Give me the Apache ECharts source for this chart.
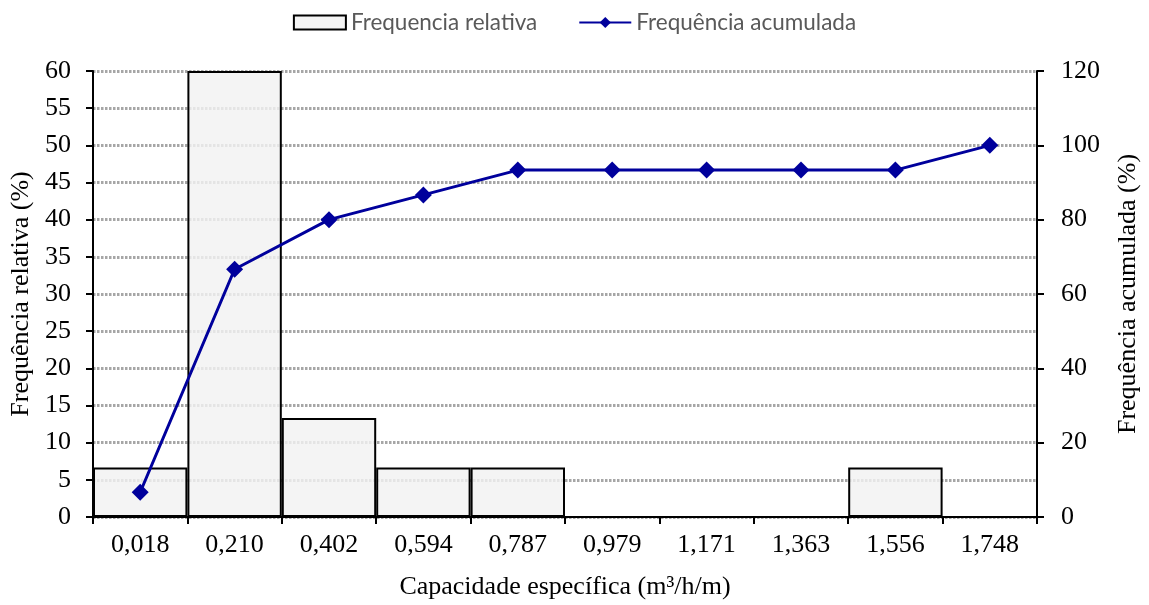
<!DOCTYPE html>
<html>
<head>
<meta charset="utf-8">
<script src="https://cdn.jsdelivr.net/npm/echarts@6/dist/echarts.min.js"></script>
<style>
  html, body { margin: 0; padding: 0; background: #fff; }
  #chart { width: 1149px; height: 605px; }
</style>
</head>
<body>
<div id="chart"></div>
<script>
// Class limits of specific capacity (m³/h/m)
const categories = ['0,018', '0,210', '0,402', '0,594', '0,787', '0,979', '1,171', '1,363', '1,556', '1,748'];
// Relative frequency per class (%)
const relativeFreq = [6.67, 60, 13.33, 6.67, 6.67, 0, 0, 0, 6.67, 0];
// Cumulative frequency (%)
const cumulativeFreq = [6.67, 66.67, 80, 86.67, 93.33, 93.33, 93.33, 93.33, 93.33, 100];
// Axis ticks
const leftTicks = { min: 0, max: 60, interval: 5 };
const rightTicks = { min: 0, max: 120, interval: 20 };

const serif = '"Liberation Serif", "Times New Roman", serif';
const sans = 'Lato, "Open Sans", "Noto Sans", sans-serif';

const chart = echarts.init(document.getElementById('chart'), null, { renderer: 'canvas' });
chart.setOption({
  animation: false,
  legend: {
    top: 6,
    left: 'center',
    itemGap: 41,
    itemWidth: 52,
    itemHeight: 14,
    textStyle: { fontFamily: sans, fontSize: 22.5, color: '#595959' },
    data: [
      { name: 'Frequencia relativa', icon: 'rect' },
      { name: 'Frequência acumulada' }
    ]
  },
  grid: { left: 93, right: 109, top: 71, bottom: 85 },
  xAxis: {
    type: 'category',
    data: categories,
    boundaryGap: true,
    name: 'Capacidade específica (m³/h/m)',
    nameLocation: 'middle',
    nameGap: 57,
    nameTextStyle: { fontFamily: serif, fontSize: 26, color: '#000' },
    axisLine: { lineStyle: { color: '#000', width: 2 } },
    axisTick: { show: true, alignWithLabel: false, length: 7, lineStyle: { color: '#000', width: 2 } },
    axisLabel: { fontFamily: serif, fontSize: 26, color: '#000', margin: 15 }
  },
  yAxis: [
    {
      type: 'value',
      min: leftTicks.min, max: leftTicks.max, interval: leftTicks.interval,
      name: 'Frequência relativa (%)',
      nameLocation: 'middle',
      nameGap: 54,
      nameTextStyle: { fontFamily: serif, fontSize: 26, color: '#000' },
      axisLine: { show: true, lineStyle: { color: '#000', width: 2 } },
      axisTick: { show: true, length: 7, lineStyle: { color: '#000', width: 2 } },
      axisLabel: { fontFamily: serif, fontSize: 26, color: '#000', margin: 22 },
      splitLine: { show: true, lineStyle: { color: '#a6a6a6', width: 3, type: [2.5, 1.5] } }
    },
    {
      type: 'value',
      position: 'right',
      min: rightTicks.min, max: rightTicks.max, interval: rightTicks.interval,
      name: 'Frequência acumulada (%)',
      nameLocation: 'middle',
      nameGap: 78,
      nameRotate: 90,
      nameTextStyle: { fontFamily: serif, fontSize: 26, color: '#000' },
      axisLine: { show: true, lineStyle: { color: '#000', width: 2 } },
      axisTick: { show: true, length: 7, lineStyle: { color: '#000', width: 2 } },
      axisLabel: { fontFamily: serif, fontSize: 26, color: '#000', margin: 24 },
      splitLine: { show: false }
    }
  ],
  series: [
    {
      name: 'Frequencia relativa',
      type: 'bar',
      yAxisIndex: 0,
      data: relativeFreq,
      barWidth: '100%',
      barCategoryGap: '0%',
      itemStyle: { color: 'rgba(242,242,242,0.82)', borderColor: '#000', borderWidth: 2 }
    },
    {
      name: 'Frequência acumulada',
      type: 'line',
      yAxisIndex: 1,
      data: cumulativeFreq,
      symbol: 'diamond',
      symbolSize: 17,
      lineStyle: { color: '#00009c', width: 3 },
      itemStyle: { color: '#00009c' },
      z: 5
    }
  ]
});
</script>
</body>
</html>
